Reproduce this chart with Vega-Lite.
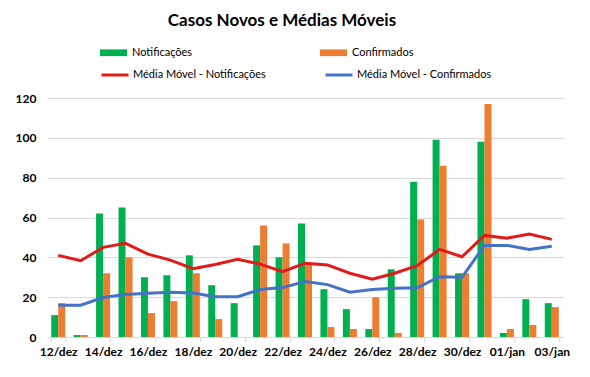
{
  "$schema": "https://vega.github.io/schema/vega-lite/v6.json",
  "width": 516,
  "height": 239,
  "autosize": {"type": "none"},
  "padding": {"left": 47, "top": 98, "right": 27, "bottom": 40},
  "background": "white",
  "config": {"font": "Lato", "view": {"stroke": null}},
  "title": {"text": "Casos Novos e Médias Móveis", "fontSize": 17, "fontWeight": "bold", "font": "Lato", "color": "#000000", "anchor": "middle", "dx": -23, "offset": 9},
  "data": {"values": [
    {"dia": "12/dez", "notif": 11, "conf": 17, "mmNotif": 41, "mmConf": 16},
    {"dia": "13/dez", "notif": 1, "conf": 1, "mmNotif": 38.3, "mmConf": 16},
    {"dia": "14/dez", "notif": 62, "conf": 32, "mmNotif": 45, "mmConf": 19.8},
    {"dia": "15/dez", "notif": 65, "conf": 40, "mmNotif": 47, "mmConf": 21.3},
    {"dia": "16/dez", "notif": 30, "conf": 12, "mmNotif": 41.6, "mmConf": 22},
    {"dia": "17/dez", "notif": 31, "conf": 18, "mmNotif": 38.6, "mmConf": 22.5},
    {"dia": "18/dez", "notif": 41, "conf": 32, "mmNotif": 34.3, "mmConf": 22.1},
    {"dia": "19/dez", "notif": 26, "conf": 9, "mmNotif": 36.4, "mmConf": 20.2},
    {"dia": "20/dez", "notif": 17, "conf": 0, "mmNotif": 39, "mmConf": 20.2},
    {"dia": "21/dez", "notif": 46, "conf": 56, "mmNotif": 36.6, "mmConf": 23.8},
    {"dia": "22/dez", "notif": 40, "conf": 47, "mmNotif": 32.8, "mmConf": 24.8},
    {"dia": "23/dez", "notif": 57, "conf": 37, "mmNotif": 37, "mmConf": 27.8},
    {"dia": "24/dez", "notif": 24, "conf": 5, "mmNotif": 36.2, "mmConf": 26.3},
    {"dia": "25/dez", "notif": 14, "conf": 4, "mmNotif": 32, "mmConf": 22.5},
    {"dia": "26/dez", "notif": 4, "conf": 20, "mmNotif": 29, "mmConf": 23.8},
    {"dia": "27/dez", "notif": 34, "conf": 2, "mmNotif": 32, "mmConf": 24.5},
    {"dia": "28/dez", "notif": 78, "conf": 59, "mmNotif": 35.8, "mmConf": 24.7},
    {"dia": "29/dez", "notif": 99, "conf": 86, "mmNotif": 44, "mmConf": 30.3},
    {"dia": "30/dez", "notif": 32, "conf": 32, "mmNotif": 40.3, "mmConf": 30},
    {"dia": "31/dez", "notif": 98, "conf": 117, "mmNotif": 51, "mmConf": 46},
    {"dia": "01/jan", "notif": 2, "conf": 4, "mmNotif": 49.6, "mmConf": 46},
    {"dia": "02/jan", "notif": 19, "conf": 6, "mmNotif": 51.7, "mmConf": 44},
    {"dia": "03/jan", "notif": 17, "conf": 15, "mmNotif": 49, "mmConf": 45.6}
  ]},
  "encoding": {
    "x": {
      "field": "dia", "type": "nominal", "sort": null,
      "scale": {"paddingInner": 0.375, "paddingOuter": 0.1875},
      "axis": {
        "title": null, "labelAngle": 0, "grid": false,
        "values": ["12/dez", "14/dez", "16/dez", "18/dez", "20/dez", "22/dez", "24/dez", "26/dez", "28/dez", "30/dez", "01/jan", "03/jan"],
        "tickBand": "extent", "domainColor": "#D9D9D9", "tickColor": "#D9D9D9", "tickSize": 5,
        "labelFont": "Lato", "labelFontSize": 12, "labelFontWeight": "bold", "labelColor": "#000000", "labelPadding": 4
      }
    },
    "y": {
      "field": "valor", "type": "quantitative",
      "scale": {"domain": [0, 120], "nice": false},
      "axis": {
        "title": null, "values": [0, 20, 40, 60, 80, 100, 120], "domain": false, "ticks": false,
        "grid": true, "gridColor": "#D9D9D9", "labelFont": "Lato", "labelFontSize": 12,
        "labelFontWeight": "bold", "labelColor": "#000000", "labelPadding": 11
      }
    }
  },
  "layer": [
    {
      "transform": [{"fold": ["notif", "conf"], "as": ["serieB", "valor"]}],
      "mark": {"type": "bar"},
      "encoding": {
        "xOffset": {"field": "serieB", "type": "nominal", "sort": ["notif", "conf"], "scale": {"paddingInner": 0, "paddingOuter": 0}},
        "fill": {
          "field": "serieB", "type": "nominal",
          "scale": {"domain": ["notif", "conf"], "range": ["#00B050", "#ED7D31"]},
          "legend": {
            "orient": "none", "legendX": 53, "legendY": -59, "direction": "horizontal", "columns": 2,
            "columnPadding": 127, "title": null, "padding": 0,
            "symbolType": "M-1,-0.25H1V0.25H-1Z", "symbolSize": 729, "symbolStrokeWidth": 0,
            "labelFont": "Lato", "labelFontSize": 11, "labelColor": "#000000", "labelOffset": 5,
            "labelExpr": "datum.label == 'notif' ? 'Notificações' : 'Confirmados'"
          }
        }
      }
    },
    {
      "transform": [{"fold": ["mmNotif", "mmConf"], "as": ["serieL", "valor"]}],
      "mark": {"type": "line", "strokeWidth": 3},
      "encoding": {
        "stroke": {
          "field": "serieL", "type": "nominal",
          "scale": {"domain": ["mmNotif", "mmConf"], "range": ["#E01B1B", "#4472C4"]},
          "legend": {
            "orient": "none", "legendX": 53, "legendY": -38, "direction": "horizontal", "columns": 2,
            "columnPadding": 53, "title": null, "padding": 0,
            "symbolType": "stroke", "symbolSize": 729, "symbolStrokeWidth": 3,
            "labelFont": "Lato", "labelFontSize": 11, "labelColor": "#000000", "labelOffset": 3,
            "labelExpr": "datum.label == 'mmNotif' ? 'Média Móvel - Notificações' : 'Média Móvel - Confirmados'"
          }
        }
      }
    }
  ]
}
